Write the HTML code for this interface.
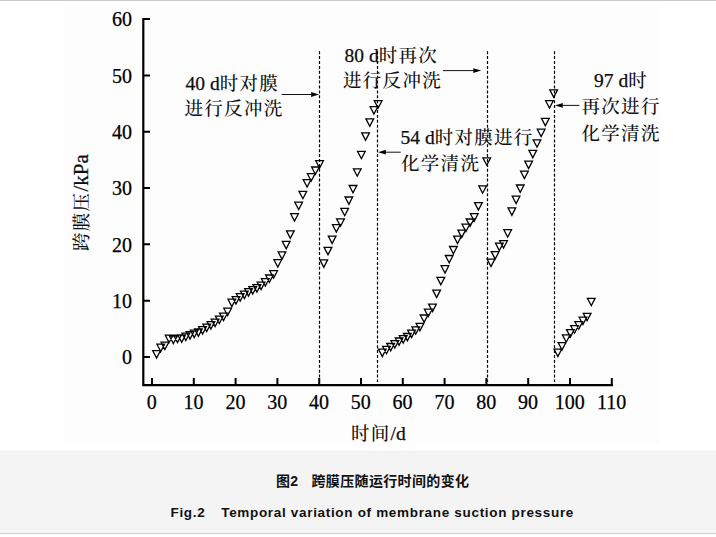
<!DOCTYPE html>
<html><head><meta charset="utf-8"><title>Fig.2 Temporal variation of membrane suction pressure</title>
<style>
html,body{margin:0;padding:0;background:#fff;}
body{width:716px;height:537px;position:relative;overflow:hidden;}
.topline{position:absolute;left:0;top:0;width:716px;height:1px;background:#c9c9c9;}
.chartbg{position:absolute;left:64px;top:7px;width:596px;height:438px;background:#fdfdfd;}
svg.chart{position:absolute;left:0;top:0;}
.num text{font-family:"Liberation Serif",serif;font-size:20px;fill:#000;}
.ann, .ann text{font-family:"Liberation Serif","Noto Serif CJK SC",serif;font-size:19px;fill:#111;}
.lat{font-family:"Liberation Serif",serif;font-size:19.5px;}
.cjk{font-family:"Noto Serif CJK SC",serif;font-size:18.5px;letter-spacing:1.3px;font-weight:500;}
.cap{position:absolute;left:0;top:450px;width:716px;height:83px;background:linear-gradient(#f9f9f9 0,#f9f9f9 1px,#f4f4f4 1px,#f4f4f4 80px,#f6f6f6 80px);}
.bline{position:absolute;left:0;top:533px;width:716px;height:1px;background:#cfcfcf;}
.c1,.c2{position:absolute;font-weight:bold;color:#111;white-space:pre;}
.c1{left:276px;top:472px;font-family:"Liberation Sans","Noto Sans CJK SC",sans-serif;font-size:14px;line-height:18px;letter-spacing:0.35px;}
.c2{left:170.5px;top:504px;font-family:"Liberation Sans",sans-serif;font-size:13.5px;line-height:18px;letter-spacing:0.68px;}
.ann .lat, .num text{stroke:#000;stroke-width:0.25px;}
</style></head>
<body>
<div class="topline"></div>
<div class="chartbg"></div>
<svg class="chart" width="716" height="451" viewBox="0 0 716 451">
<path d="M143.3 18V385.2H613" fill="none" stroke="#000" stroke-width="2.2"/>
<path d="M143.3 357.0H150M143.3 300.7H150M143.3 244.3H150M143.3 188.0H150M143.3 131.7H150M143.3 75.4H150M143.3 19.0H150M152.0 385V378M193.8 385V378M235.6 385V378M277.4 385V378M319.2 385V378M361.0 385V378M402.8 385V378M444.6 385V378M486.4 385V378M528.2 385V378M570.0 385V378M611.8 385V378" stroke="#000" stroke-width="2" fill="none"/>
<path d="M319.5 51.2V382M377.5 51.2V382M487.5 51.2V382M554.5 51.2V382" stroke="#000" stroke-width="1.2" stroke-dasharray="3 1.9" fill="none"/>
<path d="M152.7 350.7H160.4L156.6 358.1ZM156.9 344.2H164.6L160.8 351.6ZM161.1 342.2H168.8L164.9 349.6ZM165.3 335.2H173.0L169.1 342.6ZM169.5 336.2H177.2L173.3 343.6ZM173.6 335.2H181.3L177.5 342.6ZM177.8 335.0H185.5L181.7 342.4ZM182.0 333.2H189.7L185.8 340.6ZM186.2 331.7H193.9L190.0 339.1ZM190.4 330.2H198.1L194.2 337.6ZM194.5 328.9H202.2L198.4 336.3ZM198.7 326.7H206.4L202.6 334.1ZM202.9 324.2H210.6L206.7 331.6ZM207.1 321.7H214.8L210.9 329.1ZM211.2 319.2H218.9L215.1 326.6ZM215.4 316.2H223.1L219.3 323.6ZM219.6 313.2H227.3L223.5 320.6ZM223.8 308.2H231.5L227.6 315.6ZM228.0 299.2H235.7L231.8 306.6ZM232.2 296.7H239.8L236.0 304.1ZM236.3 293.7H244.0L240.2 301.1ZM240.5 291.2H248.2L244.4 298.6ZM244.7 288.7H252.4L248.5 296.1ZM248.9 286.7H256.6L252.7 294.1ZM253.0 284.7H260.8L256.9 292.1ZM257.2 282.2H264.9L261.1 289.6ZM261.4 278.7H269.1L265.3 286.1ZM265.6 275.0H273.3L269.4 282.4ZM269.8 270.7H277.5L273.6 278.1ZM273.9 259.7H281.6L277.8 267.1ZM278.1 251.9H285.8L282.0 259.3ZM282.3 241.4H290.0L286.2 248.8ZM286.5 230.9H294.2L290.3 238.3ZM290.7 213.7H298.4L294.5 221.1ZM294.8 202.2H302.5L298.7 209.6ZM299.0 191.3H306.7L302.9 198.7ZM303.2 179.7H310.9L307.1 187.1ZM307.4 173.7H315.1L311.2 181.1ZM311.6 167.0H319.3L315.4 174.4ZM315.7 160.7H323.4L319.6 168.1ZM319.9 259.9H327.6L323.8 267.3ZM324.1 247.4H331.8L328.0 254.8ZM328.3 236.1H336.0L332.1 243.5ZM332.5 224.7H340.2L336.3 232.1ZM336.6 218.8H344.4L340.5 226.2ZM340.8 208.3H348.5L344.7 215.7ZM345.0 197.0H352.7L348.9 204.4ZM349.2 185.5H356.9L353.0 192.9ZM353.4 168.8H361.1L357.2 176.2ZM357.5 151.3H365.2L361.4 158.7ZM361.7 132.9H369.4L365.6 140.3ZM365.9 118.9H373.6L369.8 126.3ZM370.1 106.7H377.8L373.9 114.1ZM374.3 100.7H382.0L378.1 108.1ZM378.4 349.1H386.1L382.3 356.5ZM382.6 346.3H390.3L386.5 353.7ZM386.8 343.5H394.5L390.7 350.9ZM391.0 340.7H398.7L394.8 348.1ZM395.2 338.0H402.9L399.0 345.4ZM399.3 335.7H407.0L403.2 343.1ZM403.5 333.5H411.2L407.4 340.9ZM407.7 330.1H415.4L411.6 337.5ZM411.9 326.8H419.6L415.7 334.2ZM416.1 323.4H423.8L419.9 330.8ZM420.2 315.0H427.9L424.1 322.4ZM424.4 309.2H432.1L428.3 316.6ZM428.6 304.1H436.3L432.5 311.5ZM432.8 290.1H440.5L436.6 297.5ZM437.0 277.4H444.7L440.8 284.8ZM441.1 265.7H448.8L445.0 273.1ZM445.3 255.5H453.0L449.2 262.9ZM449.5 246.5H457.2L453.4 253.9ZM453.7 236.1H461.4L457.5 243.5ZM457.9 230.1H465.6L461.7 237.5ZM462.0 224.2H469.8L465.9 231.6ZM466.2 219.0H473.9L470.1 226.4ZM470.4 213.7H478.1L474.3 221.1ZM474.6 202.6H482.3L478.4 210.0ZM478.8 185.8H486.5L482.6 193.2ZM482.9 157.8H490.6L486.8 165.2ZM487.1 259.1H494.8L491.0 266.5ZM491.3 251.6H499.0L495.2 259.0ZM495.5 243.2H503.2L499.3 250.6ZM499.7 240.7H507.4L503.5 248.1ZM503.8 229.7H511.5L507.7 237.1ZM508.0 207.9H515.7L511.9 215.3ZM512.2 196.2H519.9L516.1 203.6ZM516.4 185.0H524.1L520.2 192.4ZM520.6 171.2H528.3L524.4 178.6ZM524.8 161.1H532.5L528.6 168.5ZM528.9 150.4H536.6L532.8 157.8ZM533.1 139.8H540.8L537.0 147.2ZM537.3 129.2H545.0L541.1 136.6ZM541.5 118.4H549.2L545.3 125.8ZM545.6 100.7H553.3L549.5 108.1ZM549.8 89.9H557.5L553.7 97.3ZM554.0 349.1H561.7L557.9 356.5ZM558.2 342.6H565.9L562.0 350.0ZM562.4 334.8H570.1L566.2 342.2ZM566.5 329.6H574.2L570.4 337.0ZM570.7 325.7H578.4L574.6 333.1ZM574.9 321.7H582.6L578.8 329.1ZM579.1 317.2H586.8L582.9 324.6ZM583.3 313.3H591.0L587.1 320.7ZM587.4 298.3H595.1L591.3 305.7Z" fill="none" stroke="#000" stroke-width="1.3" stroke-linejoin="miter"/>
<path d="M281.7 94.5H312.0" stroke="#111" stroke-width="1.0"/><path d="M319.0 94.5L311.0 92.1L311.3 94.5L311.0 96.9Z" fill="#000"/>
<path d="M443.0 70.6H474.2" stroke="#111" stroke-width="1.0"/><path d="M481.2 70.6L473.2 68.19999999999999L473.5 70.6L473.2 73.0Z" fill="#000"/>
<path d="M400.8 152.2H385.0" stroke="#111" stroke-width="1.0"/><path d="M378.0 152.2L386.0 149.79999999999998L385.7 152.2L386.0 154.6Z" fill="#000"/>
<path d="M579.4 105.4H561.9" stroke="#111" stroke-width="1.0"/><path d="M554.9 105.4L562.9 103.0L562.6 105.4L562.9 107.80000000000001Z" fill="#000"/>
<g class="num"><text x="132" y="364.3" text-anchor="end">0</text><text x="132" y="308.0" text-anchor="end">10</text><text x="132" y="251.6" text-anchor="end">20</text><text x="132" y="195.3" text-anchor="end">30</text><text x="132" y="139.0" text-anchor="end">40</text><text x="132" y="82.7" text-anchor="end">50</text><text x="132" y="26.3" text-anchor="end">60</text><text x="151.8" y="409.0" text-anchor="middle">0</text><text x="193.6" y="409.0" text-anchor="middle">10</text><text x="235.4" y="409.0" text-anchor="middle">20</text><text x="277.2" y="409.0" text-anchor="middle">30</text><text x="319.0" y="409.0" text-anchor="middle">40</text><text x="360.8" y="409.0" text-anchor="middle">50</text><text x="402.6" y="409.0" text-anchor="middle">60</text><text x="444.4" y="409.0" text-anchor="middle">70</text><text x="486.2" y="409.0" text-anchor="middle">80</text><text x="528.0" y="409.0" text-anchor="middle">90</text><text x="569.8" y="409.0" text-anchor="middle">100</text><text x="611.6" y="409.0" text-anchor="middle">110</text></g>
<g class="ann"><text x="185.5" y="90.0"><tspan class="lat">40 d</tspan><tspan class="cjk">时对膜</tspan></text><text x="184.5" y="115.2"><tspan class="cjk">进行反冲洗</tspan></text><text x="344.5" y="62"><tspan class="lat">80 d</tspan><tspan class="cjk">时再次</tspan></text><text x="343" y="86.5"><tspan class="cjk">进行反冲洗</tspan></text><text x="400.5" y="144.4"><tspan class="lat">54 d</tspan><tspan class="cjk">时对膜进行</tspan></text><text x="401.0" y="169.5"><tspan class="cjk">化学清洗</tspan></text><text x="594" y="87"><tspan class="lat">97 d</tspan><tspan class="cjk">时</tspan></text><text x="581.5" y="113.0"><tspan class="cjk">再次进行</tspan></text><text x="581.5" y="139.5"><tspan class="cjk">化学清洗</tspan></text><text x="351.0" y="439.5"><tspan class="cjk">时间</tspan><tspan class="lat">/d</tspan></text></g>
<text class="ann" transform="translate(87.5 251) rotate(-90)"><tspan class="cjk">跨膜压</tspan><tspan class="lat" style="font-size:21px">/kPa</tspan></text>
</svg>
<div class="cap"></div>
<div class="bline"></div>
<div class="c1">图2<span style="display:inline-block;width:13px"></span>跨膜压随运行时间的变化</div>
<div class="c2">Fig.2<span style="display:inline-block;width:15.8px"></span>Temporal variation of membrane suction pressure</div>
</body></html>
